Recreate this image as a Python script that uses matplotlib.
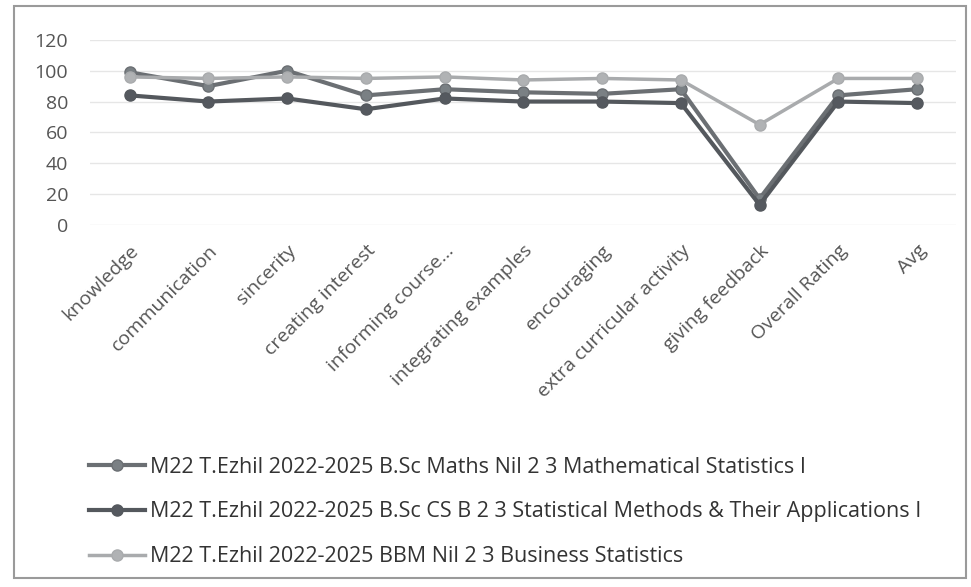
import matplotlib.pyplot as plt
from matplotlib.patches import Rectangle

categories = ['knowledge', 'communication', 'sincerity', 'creating interest',
              'informing course...', 'integrating examples', 'encouraging',
              'extra curricular activity', 'giving feedback', 'Overall Rating', 'Avg']

series_names = ['M22 T.Ezhil 2022-2025 B.Sc Maths Nil 2 3 Mathematical Statistics I',
                'M22 T.Ezhil 2022-2025 B.Sc CS B 2 3 Statistical Methods & Their Applications I',
                'M22 T.Ezhil 2022-2025 BBM Nil 2 3 Business Statistics']

maths = [99, 90, 100, 84, 88, 86, 85, 88, 17, 84, 88]
cs = [84, 80, 82, 75, 82, 80, 80, 79, 13, 80, 79]
bbm = [96, 95, 96, 95, 96, 94, 95, 94, 65, 95, 95]

yticks = [0, 20, 40, 60, 80, 100, 120]

plt.rcParams['font.family'] = ['Open Sans', 'DejaVu Sans']

fig = plt.figure(figsize=(9.71, 5.87), dpi=100, facecolor='white')
ax = fig.add_axes([0.093, 0.617, 0.892, 0.315], frameon=False)
ax.grid(axis='y', color='#e6e6e6', linewidth=1)
ax.set_axisbelow(True)

x = range(len(categories))
ax.plot(x, maths, color='#6b6f73', lw=3, marker='o', ms=8,
        mfc='#7a8084', mec='#6b6f73', label=series_names[0])
ax.plot(x, cs, color='#54585d', lw=3, marker='o', ms=8,
        mfc='#55595f', mec='#54585d', label=series_names[1])
ax.plot(x, bbm, color='#a9abad', lw=2.5, marker='o', ms=8,
        mfc='#b0b2b4', mec='#a9abad', label=series_names[2])

ax.set_xlim(-0.5, len(categories) - 0.5)
ax.set_ylim(0, 120)
ax.set_yticks(yticks)
ax.set_xticks(list(x))
ax.set_xticklabels(categories, rotation=45, ha='right', rotation_mode='anchor',
                   fontsize=14, color='#555555')
ax.tick_params(axis='x', length=0, pad=12, colors='#555555')
ax.tick_params(axis='y', length=0, labelsize=14, colors='#555555', pad=16)

handles, labels = ax.get_legend_handles_labels()
fig.legend(handles, labels, loc='upper left', bbox_to_anchor=(0.072, 0.255),
           frameon=False, fontsize=15.5, labelcolor='#333333', handlelength=2.6,
           handletextpad=0.2, labelspacing=1.1)

fig.patches.append(Rectangle((0.014, 0.015), 0.981, 0.975, transform=fig.transFigure,
                             fill=False, edgecolor='#9a9a9a', linewidth=1.5))

plt.savefig('out.png', dpi=100, facecolor='white')
